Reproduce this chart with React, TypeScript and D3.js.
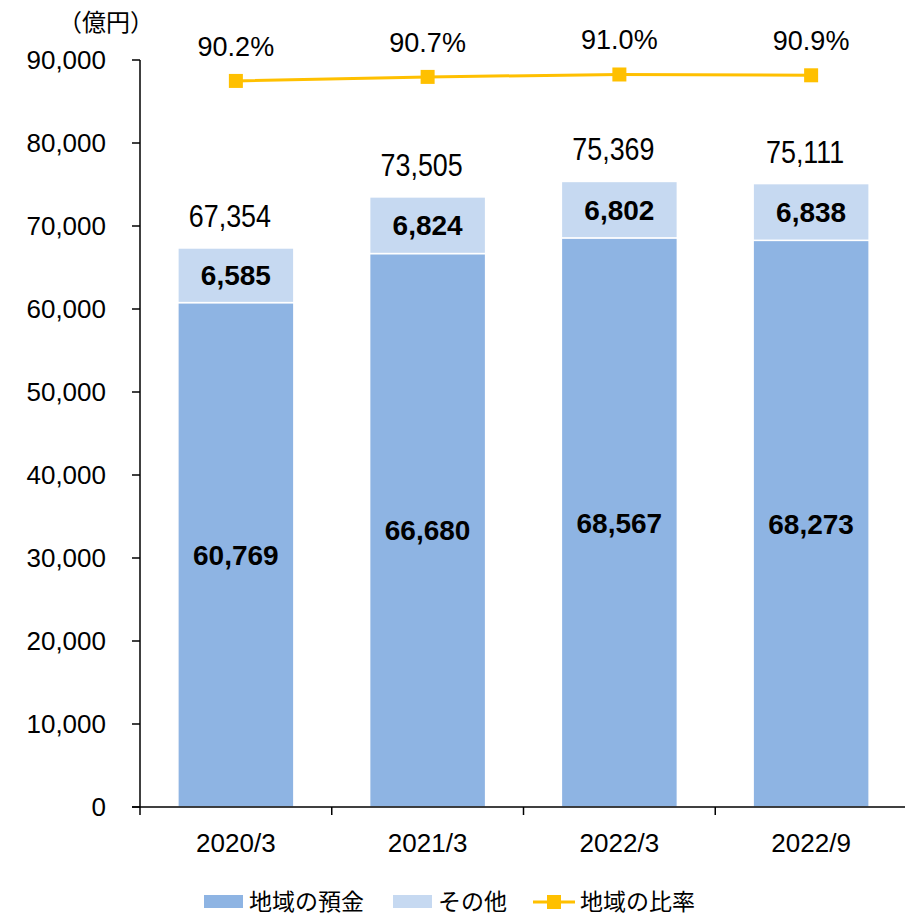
import React from "react";
import * as d3 from "d3";

const categories = ["2020/3", "2021/3", "2022/3", "2022/9"];
const localDeposits = [60769, 66680, 68567, 68273];
const otherDeposits = [6585, 6824, 6802, 6838];
const totals = [67354, 73505, 75369, 75111];
const localRatio = [90.2, 90.7, 91.0, 90.9];
const yTicks = [0, 10000, 20000, 30000, 40000, 50000, 60000, 70000, 80000, 90000];
const legendLabels = ["地域の預金", "その他", "地域の比率"];
const unitLabel = "（億円）";

const COLOR_LOCAL = "#8EB4E3";
const COLOR_OTHER = "#C6D9F1";
const COLOR_LINE = "#FFC000";
const FONT = "'Liberation Sans', Arial, sans-serif";
const JP = "'Noto Sans CJK JP', sans-serif";

export default function App() {
  const W = 905;
  const H = 922;
  const x0 = 140;
  const x1 = 907;
  const yBottom = 807;
  const yTop = 60;

  const x = d3.scaleBand<string>().domain(categories).range([x0, x1]).padding(0);
  const y = d3.scaleLinear().domain([0, 90000]).range([yBottom, yTop]);
  const y2 = d3.scaleLinear().domain([0, 92.8]).range([yBottom, yTop]);
  const barW = x.bandwidth() * 0.605;
  const cx = (c: string) => (x(c) as number) + x.bandwidth() / 2;
  const fmt = d3.format(",");

  const line = d3
    .line<number>()
    .x((_, i) => cx(categories[i]))
    .y((v) => y2(v));

  return (
    <svg width={W} height={H} style={{ display: "block", position: "absolute", left: 0, top: 0 }}>
      <rect width={W} height={H} fill="#fff" />
      {/* bars */}
      {categories.map((c, i) => {
        const bx = cx(c) - barW / 2;
        const yl = y(localDeposits[i]);
        const yt = y(localDeposits[i] + otherDeposits[i]);
        return (
          <g key={c}>
            <rect x={bx} y={yl} width={barW} height={yBottom - yl} fill={COLOR_LOCAL} stroke="#fff" strokeWidth={1.5} />
            <rect x={bx} y={yt} width={barW} height={yl - yt} fill={COLOR_OTHER} stroke="#fff" strokeWidth={1.5} />
            <text x={cx(c)} y={(yl + yBottom) / 2} dy="0.36em" textAnchor="middle" fontFamily={FONT} fontWeight="bold" fontSize={28}>
              {fmt(localDeposits[i])}
            </text>
            <text x={cx(c)} y={(yl + yt) / 2} dy="0.36em" textAnchor="middle" fontFamily={FONT} fontWeight="bold" fontSize={28}>
              {fmt(otherDeposits[i])}
            </text>
            <text
              transform={`translate(${cx(c) - 6},${y(totals[i]) - 21}) scale(0.84,1)`}
              textAnchor="middle"
              fontFamily={FONT}
              fontSize={32}
            >
              {fmt(totals[i])}
            </text>
          </g>
        );
      })}
      {/* y axis */}
      <line x1={x0} x2={x0} y1={yTop} y2={yBottom} stroke="#000" strokeWidth={1.5} />
      {yTicks.map((t) => (
        <g key={t}>
          <line x1={x0 - 8} x2={x0} y1={y(t)} y2={y(t)} stroke="#000" strokeWidth={1.5} />
          <text x={106} y={y(t)} dy="0.36em" textAnchor="end" fontFamily={FONT} fontSize={26}>
            {fmt(t)}
          </text>
        </g>
      ))}
      {/* x axis */}
      <line x1={x0 - 8} x2={W} y1={yBottom} y2={yBottom} stroke="#000" strokeWidth={1.5} />
      {categories.map((c) => (
        <g key={c}>
          <line x1={x(c) as number} x2={x(c) as number} y1={yBottom} y2={yBottom + 8} stroke="#000" strokeWidth={1.5} />
          <text x={cx(c)} y={852} textAnchor="middle" fontFamily={FONT} fontSize={26}>
            {c}
          </text>
        </g>
      ))}
      {/* unit */}
      <text x={106} y={31} textAnchor="middle" fontFamily={JP} fontSize={24}>
        {unitLabel}
      </text>
      {/* ratio line */}
      <path d={line(localRatio) || ""} fill="none" stroke={COLOR_LINE} strokeWidth={3} />
      {localRatio.map((v, i) => (
        <g key={i}>
          <rect x={cx(categories[i]) - 7} y={y2(v) - 7} width={14} height={14} fill={COLOR_LINE} />
          <text x={cx(categories[i])} y={y2(v) - 25} textAnchor="middle" fontFamily={FONT} fontSize={27}>
            {v.toFixed(1)}%
          </text>
        </g>
      ))}
      {/* legend */}
      <rect x={204} y={895} width={39} height={13} fill={COLOR_LOCAL} />
      <text x={249} y={902} dy="0.36em" fontFamily={JP} fontSize={23}>
        {legendLabels[0]}
      </text>
      <rect x={393} y={895} width={39} height={13} fill={COLOR_OTHER} />
      <text x={438} y={902} dy="0.36em" fontFamily={JP} fontSize={23}>
        {legendLabels[1]}
      </text>
      <line x1={533} x2={575} y1={902} y2={902} stroke={COLOR_LINE} strokeWidth={3} />
      <rect x={547} y={895} width={14} height={14} fill={COLOR_LINE} />
      <text x={580} y={902} dy="0.36em" fontFamily={JP} fontSize={23}>
        {legendLabels[2]}
      </text>
    </svg>
  );
}
